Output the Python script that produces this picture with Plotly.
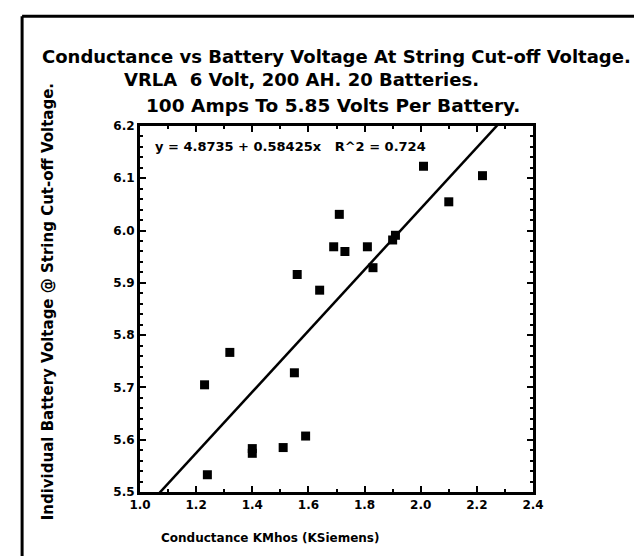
import plotly.graph_objects as go

# conductance (KMhos) and cut-off voltage per battery
conductance = [2.01, 2.22, 2.10, 1.71, 1.69, 1.73, 1.81, 1.90, 1.91, 1.83,
               1.56, 1.64, 1.32, 1.23, 1.55, 1.59, 1.51, 1.40, 1.40, 1.24]
voltage = [6.123, 6.105, 6.055, 6.031, 5.969, 5.960, 5.969, 5.982, 5.991, 5.929,
           5.916, 5.886, 5.767, 5.705, 5.728, 5.607, 5.585, 5.583, 5.574, 5.533]

# fit quoted on the chart
intercept = 4.8735
slope = 0.58425
r2 = 0.724
fit_x = [1.0, 2.4]
fit_y = [intercept + slope * x for x in fit_x]

x_ticks = [1.0, 1.2, 1.4, 1.6, 1.8, 2.0, 2.2, 2.4]
x_labels = ["1.0", "1.2", "1.4", "1.6", "1.8", "2.0", "2.2", "2.4"]
y_ticks = [5.5, 5.6, 5.7, 5.8, 5.9, 6.0, 6.1, 6.2]
y_labels = ["5.5", "5.6", "5.7", "5.8", "5.9", "6.0", "6.1", "6.2"]

FONT = "DejaVu Sans"

fig = go.Figure()
fig.add_trace(go.Scatter(
    x=fit_x, y=fit_y, mode="lines",
    line=dict(color="black", width=2.5),
    showlegend=False, hoverinfo="skip",
))
fig.add_trace(go.Scatter(
    x=conductance, y=voltage, mode="markers",
    marker=dict(symbol="square", size=9, color="black"),
    showlegend=False,
))

axis_style = dict(
    showgrid=False, zeroline=False,
    showline=True, linecolor="black", linewidth=3, mirror="allticks",
    ticks="inside", ticklen=6, tickwidth=2, tickcolor="black",
    tickfont=dict(family=FONT, size=12, color="black", weight="bold"),
)
fig.update_xaxes(
    range=[1.0, 2.4], tickvals=x_ticks, ticktext=x_labels,
    minor=dict(ticks="inside", dtick=0.1, ticklen=3, tickwidth=2, tickcolor="black"),
    **axis_style,
)
fig.update_yaxes(
    range=[5.5, 6.2], tickvals=y_ticks, ticktext=y_labels,
    minor=dict(ticks="inside", dtick=0.02, ticklen=3, tickwidth=2, tickcolor="black"),
    **axis_style,
)

def note(text, x, y, size, xanchor="center", angle=0):
    fig.add_annotation(
        text=text, x=x, y=y, xref="paper", yref="paper",
        xanchor=xanchor, yanchor="middle", showarrow=False, textangle=angle,
        font=dict(family=FONT, size=size, color="black", weight="bold"),
    )

note("Conductance vs Battery Voltage At String Cut-off Voltage.", 0.50, 1.189, 18)
note("VRLA  6 Volt, 200 AH. 20 Batteries.", 0.41, 1.126, 18)
note("100 Amps To 5.85 Volts Per Battery.", 0.49, 1.057, 18.5)
note(f"y = {intercept} + {slope}x   R^2 = {r2}", 0.032, 0.945, 13, xanchor="left")
note("Conductance KMhos (KSiemens)", 0.33, -0.126, 12)
note("Individual Battery Voltage @ String Cut-off Voltage.", -0.235, 0.52, 15, angle=-90)

# outer frame of the scanned figure
frame = dict(color="black", width=3)
fig.add_shape(type="line", xref="paper", yref="paper", x0=-0.3, x1=-0.3, y0=1.3, y1=-0.3, line=frame)
fig.add_shape(type="line", xref="paper", yref="paper", x0=-0.3, x1=1.4, y0=1.3, y1=1.3, line=frame)

fig.update_layout(
    width=642, height=556,
    margin=dict(l=132, r=117, t=118, b=72),
    paper_bgcolor="white", plot_bgcolor="white",
)
fig.write_html("out.html")
